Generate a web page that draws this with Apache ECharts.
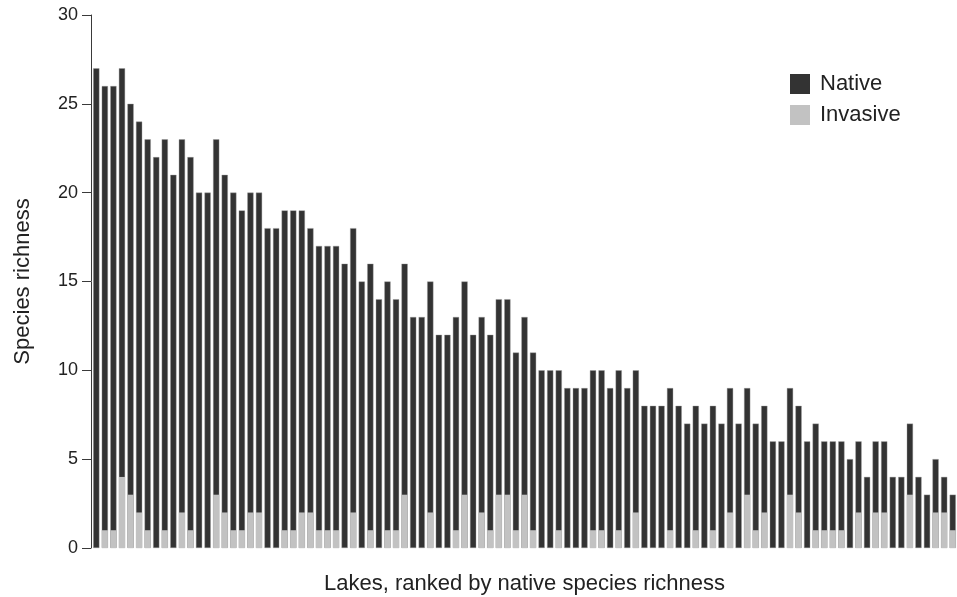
<!DOCTYPE html>
<html>
<head>
<meta charset="utf-8">
<script src="https://cdn.jsdelivr.net/npm/echarts@6/dist/echarts.min.js"></script>
<style>
html,body{margin:0;padding:0;background:#fff;}
#chart{width:957px;height:597px;}
</style>
</head>
<body>
<div id="chart"></div>
<script>
// Lakes, ranked by native species richness (1..101)
const lakes = Array.from({length: 101}, (_, i) => 'Lake ' + (i + 1));

// Native species richness (dark bars)
const native = [
  27, 26, 26, 27, 25, 24, 23, 22, 23, 21, 23, 22,
  20, 20, 23, 21, 20, 19, 20, 20, 18, 18, 19, 19, 19, 18,
  17, 17, 17, 16, 18, 15, 16, 14, 15, 14, 16, 13,
  13, 15, 12, 12, 13, 15, 12, 13, 12, 14, 14, 11, 13,
  11, 10, 10, 10, 9, 9, 9, 10, 10, 9, 10, 9, 10,
  8, 8, 8, 9, 8, 7, 8, 7, 8, 7, 9, 7, 9,
  7, 8, 6, 6, 9, 8, 6, 7, 6, 6, 6, 5, 6,
  4, 6, 6, 4, 4, 7, 4, 3, 5, 4, 3
];

// Invasive species richness (light bars)
const invasive = [
  0, 1, 1, 4, 3, 2, 1, 0, 1, 0, 2, 1,
  0, 0, 3, 2, 1, 1, 2, 2, 0, 0, 1, 1, 2, 2,
  1, 1, 1, 0, 2, 0, 1, 0, 1, 1, 3, 0,
  0, 2, 0, 0, 1, 3, 0, 2, 1, 3, 3, 1, 3,
  1, 0, 0, 1, 0, 0, 0, 1, 1, 0, 1, 0, 2,
  0, 0, 0, 1, 0, 0, 1, 0, 1, 0, 2, 0, 3,
  1, 2, 0, 0, 3, 2, 0, 1, 1, 1, 1, 0, 2,
  0, 2, 2, 0, 0, 3, 0, 0, 2, 2, 1
];

const yTicks = [0, 5, 10, 15, 20, 25, 30];

const chart = echarts.init(document.getElementById('chart'), null, {renderer: 'canvas'});
const font = 'Liberation Sans, Arial, Helvetica, sans-serif';
chart.setOption({
  animation: false,
  backgroundColor: '#ffffff',
  textStyle: {fontFamily: font},
  grid: {left: 92, right: 0, top: 15, bottom: 49, containLabel: false, outerBoundsMode: 'none'},
  legend: {
    data: ['Native', 'Invasive'],
    orient: 'vertical',
    left: 785,
    top: 68,
    itemWidth: 20,
    itemHeight: 20,
    itemGap: 9,
    icon: 'rect',
    itemStyle: {borderWidth: 0},
    textStyle: {fontSize: 22, color: '#222', fontFamily: font, padding: [0, 0, 0, 5]}
  },
  xAxis: {
    type: 'category',
    data: lakes,
    name: 'Lakes, ranked by native species richness',
    nameLocation: 'middle',
    nameGap: 25,
    nameTextStyle: {fontSize: 22, color: '#222', fontFamily: font},
    axisLine: {show: false},
    axisTick: {show: false},
    axisLabel: {show: false},
    splitLine: {show: false}
  },
  yAxis: {
    type: 'value',
    min: yTicks[0],
    max: yTicks[yTicks.length - 1],
    interval: 5,
    offset: 1,
    name: 'Species richness',
    nameLocation: 'middle',
    nameGap: 57,
    nameRotate: 90,
    nameTextStyle: {fontSize: 22, color: '#222', fontFamily: font},
    axisLine: {show: true, lineStyle: {color: '#3a3a3a', width: 1}},
    axisTick: {show: true, length: 9, lineStyle: {color: '#3a3a3a'}},
    axisLabel: {fontSize: 18, color: '#222', margin: 13, fontFamily: font},
    splitLine: {show: false}
  },
  series: [
    {
      name: 'Native',
      type: 'bar',
      data: native,
      barCategoryGap: '28%',
      barGap: '-100%',
      itemStyle: {color: '#333333', borderColor: '#9a9a9a', borderWidth: 0.4}
    },
    {
      name: 'Invasive',
      type: 'bar',
      data: invasive,
      barCategoryGap: '28%',
      barGap: '-100%',
      itemStyle: {color: '#c2c2c2'}
    }
  ]
});
</script>
</body>
</html>
